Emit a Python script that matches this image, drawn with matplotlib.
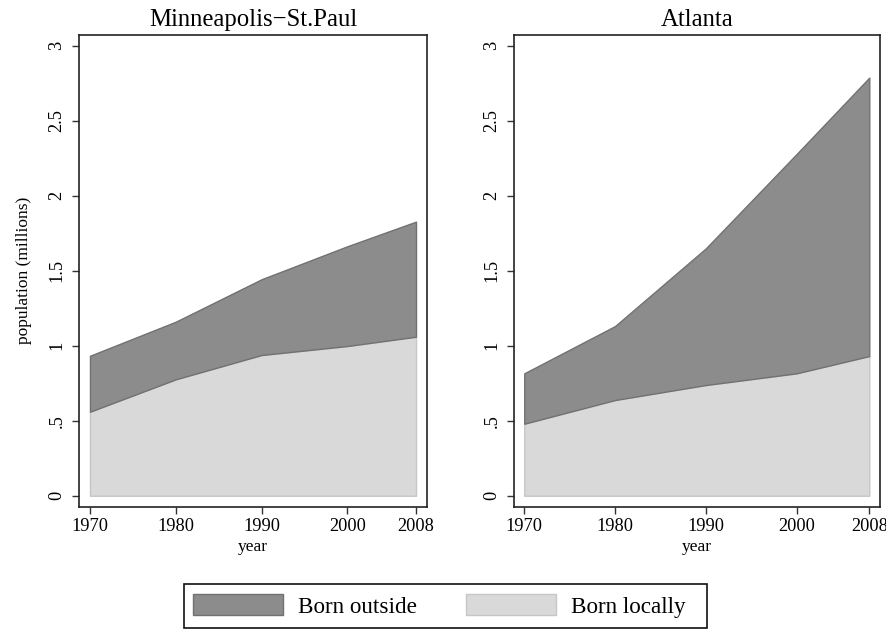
import matplotlib
matplotlib.use('Agg')
import matplotlib.pyplot as plt
from matplotlib.patches import Patch, Rectangle

plt.rcParams['font.family'] = ['Liberation Serif', 'DejaVu Serif']

# population in millions
years = [1970, 1980, 1990, 2000, 2008]
msp_local = [0.560, 0.776, 0.938, 0.998, 1.060]
msp_outside = [0.373, 0.384, 0.505, 0.665, 0.767]
atl_local = [0.480, 0.638, 0.738, 0.816, 0.931]
atl_outside = [0.336, 0.493, 0.911, 1.462, 1.856]

cities = ["Minneapolis\u2212St.Paul", "Atlanta"]
ytick_vals = [0, 0.5, 1, 1.5, 2, 2.5, 3]
ytick_labels = ["0", ".5", "1", "1.5", "2", "2.5", "3"]

DARK = '#8c8c8c'
DARK_EDGE = '#717171'
LIGHT = '#d9d9d9'
LIGHT_EDGE = '#c6c6c6'

W, H = 886, 629
fig = plt.figure(figsize=(W / 100, H / 100), dpi=100)

def px_axes(left, top, right, bottom):
    return fig.add_axes([left / W, 1 - bottom / H, (right - left) / W, (bottom - top) / H])

panels = [
    (px_axes(79, 34.7, 427, 506.7), msp_local, msp_outside, (1968.72, 2009.28)),
    (px_axes(514, 34.7, 880, 506.7), atl_local, atl_outside, (1968.87, 2009.18)),
]

for i, (ax, local, outside, xlim) in enumerate(panels):
    total = [a + b for a, b in zip(local, outside)]
    ax.fill_between(years, 0, local, facecolor=LIGHT, edgecolor=LIGHT_EDGE, linewidth=1.0)
    ax.fill_between(years, local, total, facecolor=DARK, edgecolor=DARK_EDGE, linewidth=1.0)

    ax.set_xlim(*xlim)
    ax.set_ylim(-0.073, 3.073)
    ax.set_xticks(years)
    ax.set_xticklabels([str(y) for y in years])
    ax.set_yticks(ytick_vals)
    ax.set_yticklabels(ytick_labels, rotation=90, va='center')
    ax.tick_params(axis='both', direction='out', length=5.3, width=1.0,
                   color='#333333', labelsize=13.2)
    ax.tick_params(axis='x', pad=2.5)
    ax.tick_params(axis='y', pad=4.5)
    for sp in ax.spines.values():
        sp.set_linewidth(1.2)
        sp.set_color('#222222')

    ax.set_title(cities[i], fontsize=17.8, pad=6)
    ax.set_xlabel('year', fontsize=12.5, labelpad=3)
    if i == 0:
        ax.set_ylabel('population (millions)', fontsize=12.5, labelpad=11.5)

# legend box drawn separately so the padding can be uneven
fig.add_artist(Rectangle((184 / W, 1 - 628 / H), (707 - 184) / W, 44 / H,
                         transform=fig.transFigure, facecolor='white',
                         edgecolor='#111111', linewidth=1.2))
handles = [
    Patch(facecolor=DARK, edgecolor=DARK_EDGE, linewidth=1.0, label='Born outside'),
    Patch(facecolor=LIGHT, edgecolor=LIGHT_EDGE, linewidth=1.0, label='Born locally'),
]
fig.legend(handles=handles, loc='center left', bbox_to_anchor=(193 / W, 1 - 606 / H),
           ncol=2, fontsize=16.7, frameon=False,
           handlelength=3.9, handleheight=1.0, handletextpad=0.63,
           columnspacing=2.1, borderpad=0, borderaxespad=0)

fig.savefig('out.png', dpi=100, facecolor='white')
